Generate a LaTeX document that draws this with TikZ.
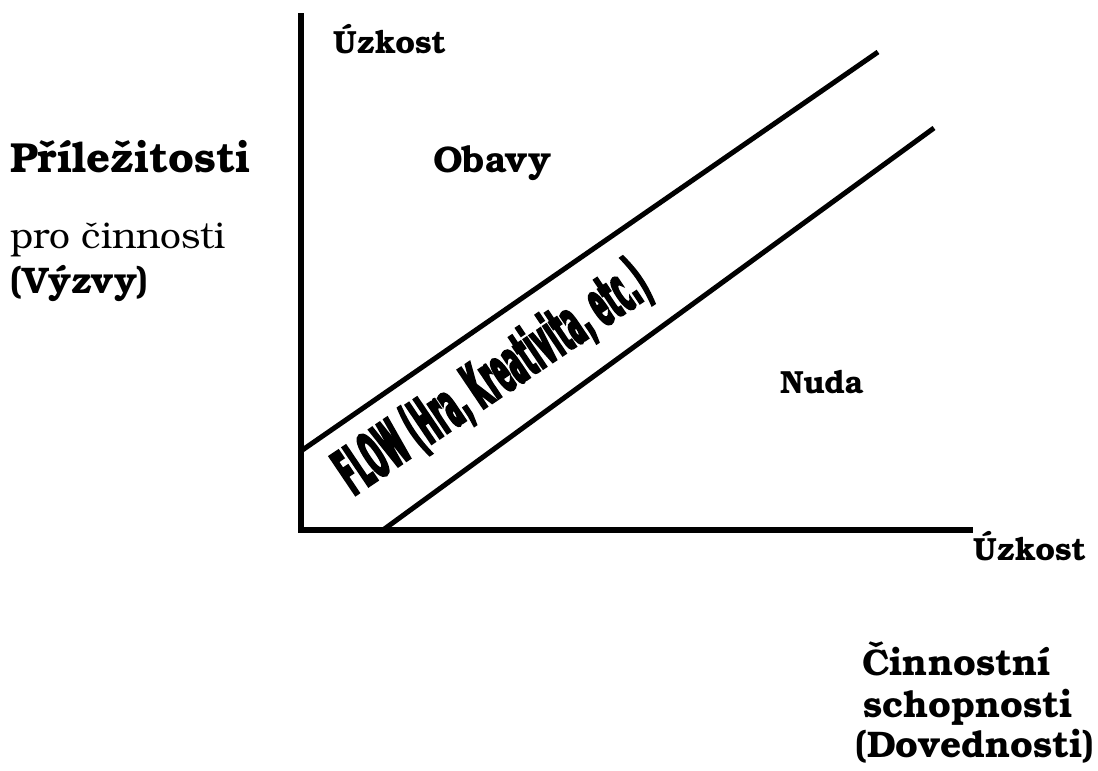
\documentclass[tikz,border=0pt]{standalone}
\usepackage{fontspec}
\setmainfont{texgyrebonum}[Extension=.otf, UprightFont=*-regular, BoldFont=*-bold]
\newfontfamily\flowfont{DejaVu Sans}[FakeStretch=0.33, LetterSpace=2, BoldFeatures={FakeBold=3.5}]

\tikzset{
  osa/.style={line width=6pt, line join=miter},
  hranice/.style={line width=5pt},
  popis/.style={inner sep=0pt, anchor=base west},
}
\newcommand{\velikost}[1]{\fontsize{#1}{#1}\selectfont}

\begin{document}
\begin{tikzpicture}[x=1pt, y=-1pt]
        \useasboundingbox (0,0) rectangle (1098,771);

        \coordinate (O) at (301,530);
        \coordinate (Ytop) at (301,13);
        \coordinate (Xend) at (973,530);
        \coordinate (H1) at (301,451);
        \coordinate (H2) at (878,52);
        \coordinate (D1) at (383,530);
        \coordinate (D2) at (934,128);

        \draw[osa] (Ytop) -- (O) -- (Xend);
        \draw[hranice] (H1) -- (H2);
        \draw[hranice] (D1) -- (D2);

        \node[popis, font=\bfseries\velikost{32}] (uzkostY) at (333,53) {Úzkost};
        \node[popis, font=\bfseries\velikost{42}] (prilez) at (10,172) {Příležitosti};
        \node[popis, font=\velikost{37}] (pro) at (10,248) {pro činnosti};
        \node[popis, font=\bfseries\velikost{37}] (vyzvy) at (10,293) {(Výzvy)};
        \node[popis, font=\bfseries\velikost{37}] (obavy) at (433,172) {Obavy};
        \node[popis, font=\bfseries\velikost{32}] (nuda) at (780,393) {Nuda};
        \node[popis, font=\bfseries\velikost{32}] (uzkostX) at (973,560) {Úzkost};
        \node[popis, font=\bfseries\velikost{37}] (cinnost) at (862,675) {Činnostní};
        \node[popis, font=\bfseries\velikost{37}] (schop) at (863,717) {schopnosti};
        \node[popis, font=\bfseries\velikost{37}] (doved) at (855,757) {(Dovednosti)};

        \node[rotate=34, anchor=base, inner sep=0pt, font=\flowfont\bfseries\velikost{64}] (flow) at (504,395) {FLOW (Hra, Kreativita, etc.)};
\end{tikzpicture}
\end{document}
